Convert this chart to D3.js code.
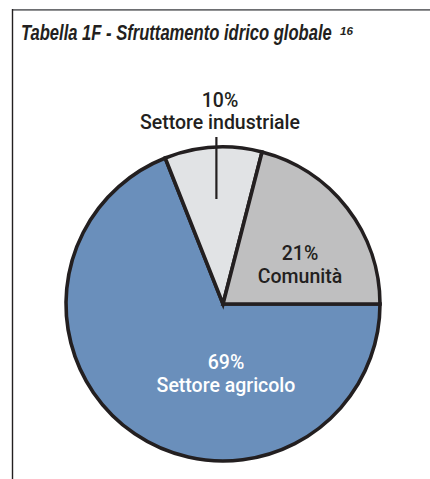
<!DOCTYPE html>
<html>
<head>
<meta charset="utf-8">
<script src="https://cdn.jsdelivr.net/npm/d3@7"></script>
<style>
  body { margin: 0; background: #ffffff; }
  svg { display: block; }
</style>
</head>
<body>
<div id="chart"></div>
<script>
// data
const sectors = ['Settore agricolo', 'Settore industriale', 'Comunità'];
const shares = [69, 10, 21];
const sliceColors = ['#6a8fbb', '#e1e3e5', '#bfbfc0'];

const WIDTH = 430, HEIGHT = 479;
const cx = 223, cy = 304, radius = 157;

let svg = d3.select('#chart').append('svg')
    .attr('width', WIDTH)
    .attr('height', HEIGHT);

// frame
svg.append('line')
    .attr('x1', 12).attr('x2', WIDTH)
    .attr('y1', 9.8).attr('y2', 9.8)
    .attr('stroke', '#6d6e71').attr('stroke-width', 1.8);
svg.append('line')
    .attr('x1', 12.5).attr('x2', 12.5)
    .attr('y1', 9).attr('y2', HEIGHT)
    .attr('stroke', '#231f20').attr('stroke-width', 1.4);

// title, squeezed horizontally to look like the condensed original
const titleFont = '"Liberation Sans", Arial, sans-serif';
function condensedText(x, y, size, width, str) {
    let t = svg.append('text')
        .attr('x', 0).attr('y', 0)
        .style('font-family', titleFont)
        .style('font-weight', 'bold')
        .style('font-style', 'italic')
        .style('font-size', size + 'px')
        .attr('fill', '#231f20')
        .text(str);
    let w = t.node().getComputedTextLength();
    t.attr('transform', 'translate(' + x + ',' + y + ') scale(' + (width / w) + ',1)');
    return t;
}
condensedText(21, 40, 21.5, 311, 'Tabella 1F - Sfruttamento idrico globale');
condensedText(340, 35, 11, 13, '16');

// pie: starts at 3 o'clock and goes clockwise
let pie = d3.pie()
    .sort(null)
    .value(function (d) { return d; })
    .startAngle(Math.PI / 2)
    .endAngle(Math.PI / 2 + 2 * Math.PI);

let arcs = pie(shares);
let arc = d3.arc().innerRadius(0).outerRadius(radius);

let g = svg.append('g')
    .attr('transform', 'translate(' + cx + ',' + cy + ')');

g.selectAll('path')
    .data(arcs)
    .enter().append('path')
    .attr('d', arc)
    .attr('fill', function (d, i) { return sliceColors[i]; })
    .attr('stroke', '#231f20')
    .attr('stroke-width', 3.6)
    .attr('stroke-linejoin', 'miter');

// leader line for the small slice
let ind = arcs[1];
let mid = (ind.startAngle + ind.endAngle) / 2;
let lx = Math.sin(mid) * radius * 0.67;
let ly = -Math.cos(mid) * radius * 0.67;
g.append('line')
    .attr('x1', lx).attr('x2', lx)
    .attr('y1', ly).attr('y2', 137 - cy)
    .attr('stroke', '#231f20')
    .attr('stroke-width', 2.2);

// labels
const labelFont = 'Roboto, "Liberation Sans", sans-serif';
const labelPos = [[226, 362, 385], [220, 100, 122], [300, 253, 276]];
const labelFill = ['#ffffff', '#231f20', '#231f20'];

sectors.forEach(function (name, i) {
    let t = svg.append('text')
        .attr('text-anchor', 'middle')
        .style('font-family', labelFont)
        .style('font-weight', 500)
        .style('font-size', '19.5px')
        .attr('fill', labelFill[i]);
    t.append('tspan')
        .attr('x', labelPos[i][0]).attr('y', labelPos[i][1])
        .attr('dy', '0.35em')
        .text(shares[i] + '%');
    t.append('tspan')
        .attr('x', labelPos[i][0]).attr('y', labelPos[i][2])
        .attr('dy', '0.35em')
        .text(name);
});
</script>
</body>
</html>
